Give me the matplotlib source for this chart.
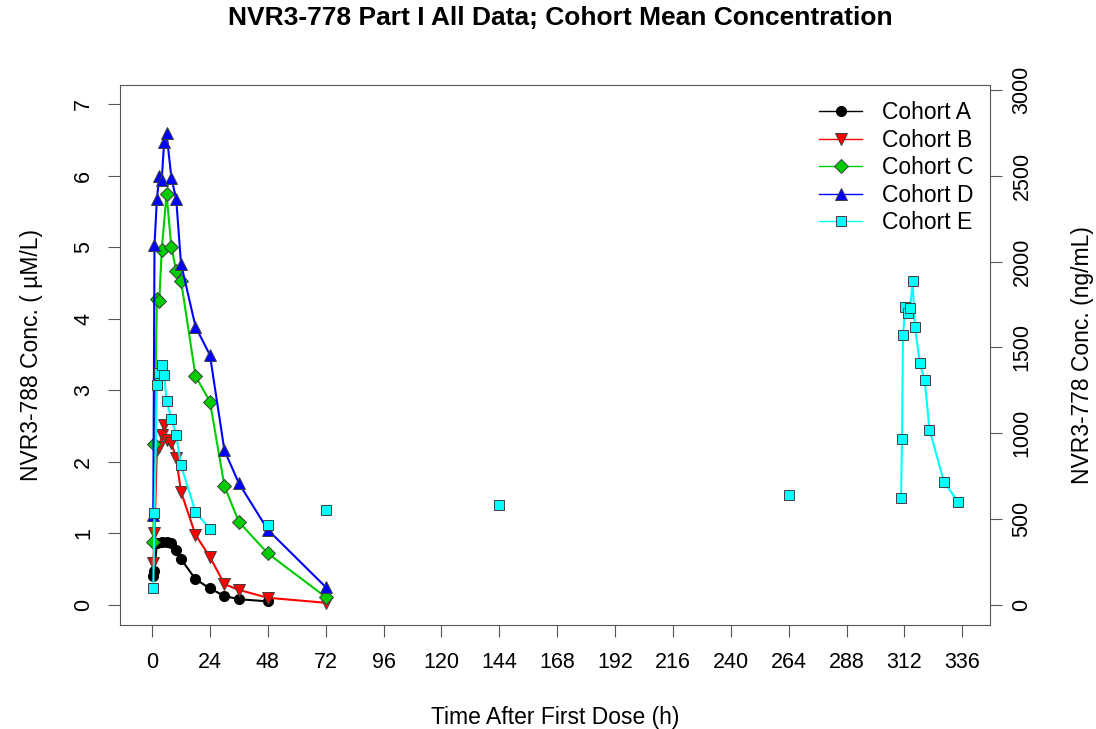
import numpy as np
import matplotlib
matplotlib.use("Agg")
import matplotlib.pyplot as plt

plt.rcParams['font.family'] = ['Liberation Sans', 'DejaVu Sans']

# cohort mean concentrations (uM/L) vs time after first dose (h)
t_a = [0.5, 1, 2, 4, 6, 8, 10, 12, 18, 24, 30, 36, 48]
c_a = [0.40, 0.47, 0.87, 0.88, 0.88, 0.86, 0.77, 0.64, 0.36, 0.23, 0.125, 0.08, 0.05]

t_b = [0.5, 1, 2, 3, 4, 5, 6, 8, 10, 12, 18, 24, 30, 36, 48, 72]
c_b = [0.58, 1.00, 2.17, 2.20, 2.38, 2.52, 2.31, 2.26, 2.05, 1.58, 0.98, 0.67, 0.29, 0.21, 0.10, 0.03]

t_c = [0.5, 1, 2, 3, 4, 6, 8, 10, 12, 18, 24, 30, 36, 48, 72]
c_c = [0.88, 2.25, 4.28, 4.25, 4.96, 5.74, 5.00, 4.67, 4.53, 3.20, 2.84, 1.66, 1.16, 0.72, 0.11]

t_d = [0.5, 1, 2, 3, 4, 5, 6, 8, 10, 12, 18, 24, 30, 36, 48, 72]
c_d = [1.26, 5.03, 5.67, 6.00, 5.94, 6.47, 6.59, 5.97, 5.67, 4.77, 3.89, 3.49, 2.16, 1.70, 1.05, 0.25]

# cohort E: first-dose profile, isolated troughs, second-dose profile
t_e1 = [0.5, 1, 2, 3, 4, 5, 6, 8, 10, 12, 18, 24]
c_e1 = [0.24, 1.29, 3.08, 3.24, 3.35, 3.21, 2.85, 2.60, 2.38, 1.95, 1.30, 1.06]
t_e2 = [48, 72, 144, 264]
c_e2 = [1.12, 1.33, 1.40, 1.53]
t_e3 = [310.6, 311, 311.4, 312.4, 313.4, 314.4, 315.4, 316.4, 318.4, 320.4, 322.4, 328.4, 334.3]
c_e3 = [1.49, 2.32, 3.77, 4.17, 4.08, 4.15, 4.52, 3.88, 3.38, 3.14, 2.45, 1.72, 1.44]

x_ticks = list(range(0, 337, 24))
ng_per_um = 416.9

fig = plt.figure(figsize=(10.96, 7.29), dpi=100)
ax = fig.add_axes([0.1095, 0.1427, 0.7938, 0.7407])

edge = '#404040'
lw = 1.5
ax.plot(t_a, c_a, color='black', lw=lw, marker='o', ms=7, mfc='black', mec='black', label='Cohort A')
ax.plot(t_b, c_b, color='red', lw=lw, marker='v', ms=9, mfc='red', mec=edge, mew=0.7, label='Cohort B')
ax.plot(t_c, c_c, color='#00CC00', lw=lw, marker='D', ms=6.8, mfc='#00CC00', mec=edge, mew=0.7, label='Cohort C')
ax.plot(t_d, c_d, color='blue', lw=lw, marker='^', ms=9, mfc='blue', mec=edge, mew=0.7, label='Cohort D')
ax.plot(t_e1, c_e1, color='cyan', lw=lw, marker='s', ms=7.5, mfc='cyan', mec=edge, mew=0.7, label='Cohort E')
ax.plot(t_e2, c_e2, ls='none', marker='s', ms=7.5, mfc='cyan', mec=edge, mew=0.7)
ax.plot(t_e3, c_e3, color='cyan', lw=lw, marker='s', ms=7.5, mfc='cyan', mec=edge, mew=0.7)

ax.set_xlim(-13.3, 347.5)
ax.set_ylim(-0.28, 7.265)
ax.set_xticks(x_ticks)
ax.set_yticks(range(0, 8))
ax.tick_params(axis='both', labelsize=15.5, length=8.5, width=0.8, color='#555555')
ax.tick_params(axis='x', pad=11)
ax.tick_params(axis='y', pad=10)
for lab in ax.get_yticklabels():
    lab.set_rotation(90)
    lab.set_va('center')
for s in ax.spines.values():
    s.set_color('#555555')
    s.set_linewidth(0.8)

ax2 = ax.twinx()
ax2.set_ylim(-0.28 * ng_per_um, 7.265 * ng_per_um)
ax2.set_yticks(range(0, 3001, 500))
ax2.tick_params(axis='y', labelsize=15.5, length=8.5, width=0.8, color='#555555', pad=7)
for lab in ax2.get_yticklabels():
    lab.set_rotation(90)
    lab.set_va('center')
for s in ax2.spines.values():
    s.set_visible(False)

ax.set_xlabel('Time After First Dose (h)', fontsize=16.5, va='center')
ax.xaxis.set_label_coords(0.5, -0.172)
ax.set_ylabel('NVR3-788 Conc. ( \u00b5M/L)', fontsize=16.5, va='center')
ax.yaxis.set_label_coords(-0.102, 0.5)
ax2.set_ylabel('NVR3-778 Conc. (ng/mL)', fontsize=16.5, va='center')
ax2.yaxis.set_label_coords(1.106, 0.5)
fig.text(0.511, 1 - 18 / 729, 'NVR3-778 Part I All Data; Cohort Mean Concentration',
         fontsize=19, fontweight='bold', ha='center', va='center')

leg = ax.legend(loc='upper right', frameon=False, fontsize=16.5, handlelength=1.85,
                labelspacing=0.2, borderaxespad=0.3, handletextpad=0.9)
for h in leg.get_lines():
    h.set_linewidth(1)

fig.savefig('out.png', dpi=100)
